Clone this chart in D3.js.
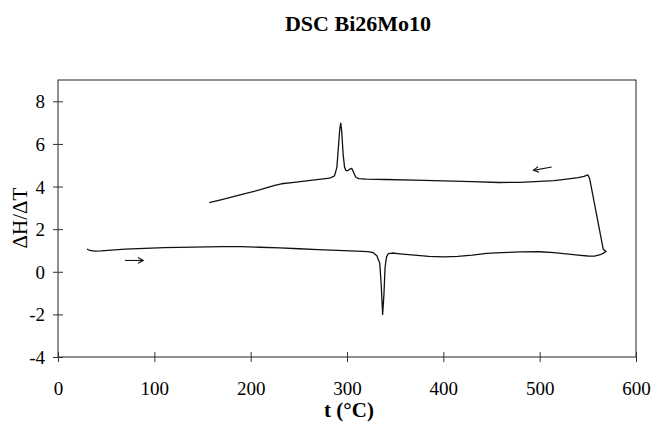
<!DOCTYPE html>
<html>
<head>
<meta charset="utf-8">
<script src="https://cdn.jsdelivr.net/npm/d3@7"></script>
<style>
  html, body { margin: 0; padding: 0; background: #fff; }
  svg { display: block; }
  text { font-family: "Liberation Serif", "Times New Roman", serif; fill: #000; }
</style>
</head>
<body>
<svg id="chart" width="657" height="424"></svg>
<script>
// Heating run (lower trace, left to right), °C and ΔH/ΔT
const heatT = [30, 33, 38, 45, 55, 70, 90, 110, 140, 170, 190, 210, 230, 250, 270, 290, 310, 322, 327, 331, 334, 335.5, 337, 338.3, 339.5, 341, 343, 347, 355, 370, 385, 400, 415, 430, 445, 460, 480, 500, 515, 530, 540, 550, 557, 563, 567, 569];
const heatV = [1.07, 1.0, 0.97, 0.98, 1.02, 1.06, 1.1, 1.13, 1.16, 1.18, 1.18, 1.15, 1.12, 1.08, 1.04, 1.0, 0.97, 0.95, 0.9, 0.75, 0.4, -0.6, -2.0, -1.1, 0.2, 0.7, 0.85, 0.88, 0.84, 0.78, 0.72, 0.7, 0.72, 0.78, 0.86, 0.9, 0.93, 0.94, 0.9, 0.83, 0.78, 0.74, 0.73, 0.8, 0.9, 0.95];

// Cooling run (upper trace, right to left)
const coolT = [566, 552, 550, 546, 540, 528, 515, 500, 480, 458, 430, 400, 370, 340, 320, 312, 309, 307, 305, 303, 301, 299, 297.5, 296, 294.5, 293.5, 292.5, 291, 289.5, 287, 282, 260, 245, 232, 225, 210, 190, 170, 157];
const coolV = [1.05, 4.35, 4.55, 4.48, 4.42, 4.35, 4.28, 4.24, 4.2, 4.19, 4.23, 4.27, 4.3, 4.33, 4.35, 4.37, 4.45, 4.65, 4.85, 4.82, 4.75, 4.75, 4.9, 5.5, 6.6, 6.98, 6.7, 5.8, 4.9, 4.5, 4.39, 4.28, 4.2, 4.13, 4.05, 3.85, 3.62, 3.39, 3.25];

// Direction arrows: [t0, v0, t1, v1] from tail to head
const heatArrow = [69.5, 0.53, 88.5, 0.53];
const coolArrow = [512.5, 4.92, 493.5, 4.76];

const xTicks = [0, 100, 200, 300, 400, 500, 600];
const yTicks = [-4, -2, 0, 2, 4, 6, 8];

const svg = d3.select("#chart");
const x = d3.scaleLinear().domain([0, 600]).range([58, 636]);
const y = d3.scaleLinear().domain([-4, 9]).range([357, 80]);

// Title
svg.append("text")
  .attr("x", 358).attr("y", 31)
  .attr("text-anchor", "middle")
  .attr("font-size", 22).attr("font-weight", "bold")
  .text("DSC Bi26Mo10");

// Plot frame
svg.append("rect")
  .attr("x", x(0)).attr("y", y(9))
  .attr("width", x(600) - x(0)).attr("height", y(-4) - y(9))
  .attr("fill", "none").attr("stroke", "#222").attr("stroke-width", 1);

// Axes with ticks crossing the axis line
const xAxis = svg.append("g")
  .attr("transform", `translate(0,${y(-4)})`)
  .call(d3.axisBottom(x).tickValues(xTicks).tickSize(0).tickPadding(0).tickFormat(""));
xAxis.select(".domain").remove();
xAxis.selectAll(".tick line").attr("y1", -5).attr("y2", 5).attr("stroke", "#333");
xAxis.selectAll(".tick").append("text")
  .attr("y", 38).attr("text-anchor", "middle")
  .attr("font-size", 19)
  .text(d => d);

const yAxis = svg.append("g")
  .attr("transform", `translate(${x(0)},0)`)
  .call(d3.axisLeft(y).tickValues(yTicks).tickSize(0).tickPadding(0).tickFormat(""));
yAxis.select(".domain").remove();
yAxis.selectAll(".tick line").attr("x1", -5).attr("x2", 5).attr("stroke", "#333");
yAxis.selectAll(".tick").append("text")
  .attr("x", -13).attr("dy", "0.34em").attr("text-anchor", "end")
  .attr("font-size", 19)
  .text(d => d);

// Axis titles
svg.append("text")
  .attr("x", 349).attr("y", 417)
  .attr("text-anchor", "middle")
  .attr("font-size", 21).attr("font-weight", "bold")
  .text("t (°C)");

svg.append("text")
  .attr("transform", `translate(27,218) rotate(-90)`)
  .attr("text-anchor", "middle")
  .attr("font-size", 21)
  .text("ΔH/ΔT");

// DSC trace: heating then cooling as one continuous record
const pts = heatT.map((t, i) => [t, heatV[i]])
  .concat(coolT.map((t, i) => [t, coolV[i]]));
const line = d3.line().x(d => x(d[0])).y(d => y(d[1])).curve(d3.curveLinear);
svg.append("path")
  .datum(pts)
  .attr("d", line)
  .attr("fill", "none")
  .attr("stroke", "#111")
  .attr("stroke-width", 1.3)
  .attr("stroke-linejoin", "round");

// Arrows showing scan direction
function arrow(a) {
  const x0 = x(a[0]), y0 = y(a[1]), x1 = x(a[2]), y1 = y(a[3]);
  const ang = Math.atan2(y1 - y0, x1 - x0);
  const h = 6, spread = 0.5;
  const g = svg.append("g").attr("stroke", "#111").attr("stroke-width", 1.1).attr("fill", "none");
  g.append("line").attr("x1", x0).attr("y1", y0).attr("x2", x1).attr("y2", y1);
  g.append("path").attr("d",
    `M${x1 - h * Math.cos(ang - spread)},${y1 - h * Math.sin(ang - spread)}` +
    `L${x1},${y1}` +
    `L${x1 - h * Math.cos(ang + spread)},${y1 - h * Math.sin(ang + spread)}`);
}
arrow(heatArrow);
arrow(coolArrow);
</script>
</body>
</html>
